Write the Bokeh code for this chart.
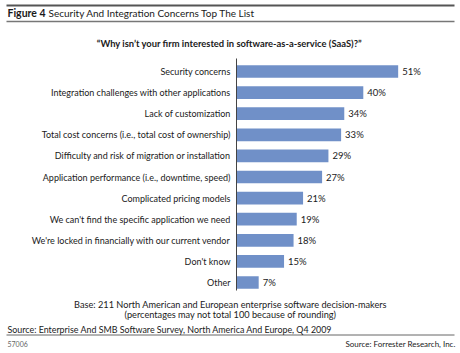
from bokeh.plotting import figure
from bokeh.models import FactorRange, Range1d, ColumnDataSource
from bokeh.core.properties import value
from bokeh.embed import file_html
from bokeh.resources import INLINE

categories = [
    "Security concerns",
    "Integration challenges with other applications",
    "Lack of customization",
    "Total cost concerns (i.e., total cost of ownership)",
    "Difficulty and risk of migration or installation",
    "Application performance (i.e., downtime, speed)",
    "Complicated pricing models",
    "We can't find the specific application we need",
    "We're locked in financially with our current vendor",
    "Don't know",
    "Other",
]
values = [51, 40, 34, 33, 29, 27, 21, 19, 18, 15, 7]
value_labels = [f"{v}%" for v in values]

FONT = "Lato"
W, H = 460, 353
AXIS_X = 236        # canvas x of the 0 % line
PX_PER_PCT = 3.17
ROW_PX = 21.1
N = len(categories)
PAD = (H / ROW_PX - N) / 2

p = figure(width=W, height=H, output_backend="svg", toolbar_location=None,
           x_range=Range1d(-AXIS_X / PX_PER_PCT, (W - AXIS_X) / PX_PER_PCT),
           y_range=FactorRange(*reversed(categories), range_padding=PAD,
                               range_padding_units="absolute"),
           min_border=0, min_border_left=0, min_border_right=0,
           min_border_top=0, min_border_bottom=0)
p.outline_line_color = None
p.axis.visible = False
p.grid.visible = False
p.background_fill_color = "white"
p.border_fill_color = "white"


def cx(px):
    """canvas pixel x -> x coordinate"""
    return (px - AXIS_X) / PX_PER_PCT


def cy(py):
    """canvas pixel y -> synthetic categorical coordinate"""
    return N + PAD - py / ROW_PX


src = ColumnDataSource(dict(cat=categories, val=values, lab=value_labels))
p.hbar(y="cat", right="val", left=0, height=0.6, source=src,
       fill_color="#7090c8", line_color=None)
p.text(x="val", y="cat", text="lab", source=src, x_offset=4,
       text_baseline="middle", text_align="left",
       text_font=value(FONT), text_font_size="9.5px", text_color="#1a1a1a")
p.text(x=0, y="cat", text="cat", source=src, x_offset=-6,
       text_baseline="middle", text_align="right",
       text_font=value(FONT), text_font_size="9px", text_color="#1a1a1a")
# axis line
p.segment(x0=[0], x1=[0], y0=[cy(58)], y1=[cy(290)],
          line_color="#444444", line_width=1)

# decorative rules
p.segment(x0=[cx(6)] * 3, x1=[cx(454)] * 3,
          y0=[cy(5), cy(21), cy(334.5)], y1=[cy(5), cy(21), cy(334.5)],
          line_color=["#555555", "#777777", "#666666"], line_width=[2, 1.5, 1])


def label(text, px, py, size="10px", align="left", bold=False, color="#1a1a1a"):
    p.text(x=[cx(px)], y=[cy(py)], text=[text], text_font=value(FONT),
           text_font_size=size, text_align=align, text_baseline="middle",
           text_font_style="bold" if bold else "normal", text_color=color)


label("Figure 4", 7, 13, size="10.5px", bold=True)
label("Security And Integration Concerns Top The List", 48, 13, size="10px")
label("\u201cWhy isn\u2019t your firm interested in software-as-a-service (SaaS)?\u201d",
      229, 43, size="9.4px", align="center", bold=True)
label("Base: 211 North American and European enterprise software decision-makers",
      230, 304, size="9.2px", align="center")
label("(percentages may not total 100 because of rounding)",
      230, 314, size="9.2px", align="center")
label("Source: Enterprise And SMB Software Survey, North America And Europe, Q4 2009",
      7, 329, size="8.9px")
label("57006", 7, 343, size="7px", color="#666666")
label("Source: Forrester Research, Inc.", 455, 343, size="8px", align="right")

open("out.html", "w").write(file_html(p, INLINE))
